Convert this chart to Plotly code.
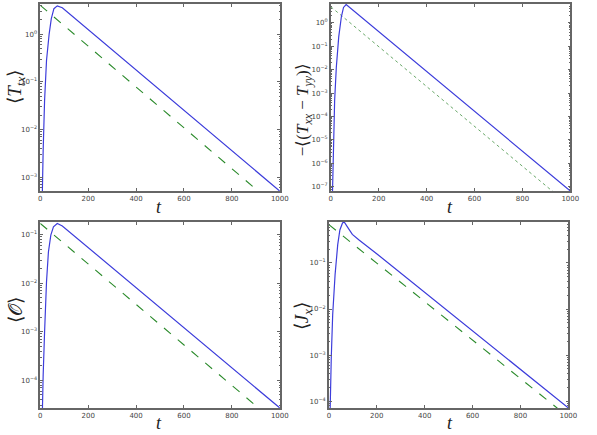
import plotly.graph_objects as go

# ---------------- data ----------------
t_blue_ttx = [6, 8, 12, 18, 26, 37, 46, 57, 71, 92, 1000]
v_blue_ttx = [1e-4, 5.0e-4, 3.6e-3, 4.1e-2, 0.28, 1.0, 2.1, 3.4, 3.9, 3.55, 5.1e-4]
t_green_ttx = [0, 1000]
v_green_ttx = [4.0, 2.1e-4]

t_blue_dt = [4, 7, 11, 16, 23, 33, 44, 53, 64, 1000]
v_blue_dt = [3e-9, 6.6e-8, 3.7e-6, 5.0e-4, 1.3e-2, 0.25, 1.8, 4.5, 6.0, 6.6e-8]
t_green_dt = [0, 1000]
v_green_dt = [4.8, 1.5e-8]

t_blue_o = [5, 8, 12, 18, 26, 34, 44, 55, 71, 92, 1000]
v_blue_o = [3.2e-6, 2.7e-5, 1.26e-4, 1.0e-3, 1.07e-2, 4.4e-2, 9.8e-2, 0.145, 0.17, 0.151, 2.7e-5]
t_green_o = [0, 1000]
v_green_o = [0.17, 1.15e-5]

t_blue_j = [2, 5, 10, 16, 26, 37, 46, 57, 64, 78, 98, 126, 205, 1000]
v_blue_j = [1e-5, 7.1e-5, 8.7e-4, 7.6e-3, 5.6e-2, 0.25, 0.52, 0.74, 0.78, 0.60, 0.417, 0.316, 0.151, 7.1e-5]
t_green_j = [0, 1000]
v_green_j = [0.68, 4.5e-5]

x_ticks = [0, 200, 400, 600, 800, 1000]
yt_ttx = [0, -1, -2, -3]
yt_dt = [0, -1, -2, -3, -4, -5, -6, -7]
yt_o = [-1, -2, -3, -4]
yt_j = [-1, -2, -3, -4]

yr_ttx = [-3.29, 0.63]
yr_dt = [-7.18, 0.80]
yr_o = [-4.57, -0.74]
yr_j = [-4.15, -0.11]

y_titles = [
    "\u27e8<i>T</i><sub><i>tx</i></sub>\u27e9",
    "\u2212\u27e8(<i>T</i><sub><i>xx</i></sub> \u2212 <i>T</i><sub><i>yy</i></sub>)\u27e9",
    "\u27e8\U0001D4AA\u27e9",
    "\u27e8<i>J</i><sub><i>x</i></sub>\u27e9",
]

# ---------------- layout geometry ----------------
W, H = 597, 435
def xd(a, b):
    return [a / W, b / W]
def yd(top, bot):
    return [1 - bot / H, 1 - top / H]

panels = [
    dict(xdom=xd(39, 283), ydom=yd(4, 191), tb=t_blue_ttx, vb=v_blue_ttx, tg=t_green_ttx, vg=v_green_ttx,
         yt=yt_ttx, yr=yr_ttx, gdash="dash", gcol="#2a8a2a", gw=1.1),
    dict(xdom=xd(335, 579), ydom=yd(4, 191), tb=t_blue_dt, vb=v_blue_dt, tg=t_green_dt, vg=v_green_dt,
         yt=yt_dt, yr=yr_dt, gdash="dot", gcol="#6aa86a", gw=1.0),
    dict(xdom=xd(39, 283), ydom=yd(222, 408), tb=t_blue_o, vb=v_blue_o, tg=t_green_o, vg=v_green_o,
         yt=yt_o, yr=yr_o, gdash="dash", gcol="#2a8a2a", gw=1.1),
    dict(xdom=xd(333, 577), ydom=yd(222, 408), tb=t_blue_j, vb=v_blue_j, tg=t_green_j, vg=v_green_j,
         yt=yt_j, yr=yr_j, gdash="dash", gcol="#2a8a2a", gw=1.1),
]

def sup(e):
    s = str(e).replace("-", "\u2212")
    return "10<sup>" + s + "</sup>"

fig = go.Figure()
tickfont = dict(family="DejaVu Sans", size=7, color="#444444")
frame = "#666666"

for i, p in enumerate(panels):
    k = "" if i == 0 else str(i + 1)
    xa, ya = "x" + k, "y" + k
    fig.add_trace(go.Scatter(x=p["tg"], y=p["vg"], mode="lines", xaxis=xa, yaxis=ya,
                             line=dict(color=p["gcol"], width=p["gw"], dash=p["gdash"]),
                             showlegend=False, hoverinfo="skip"))
    fig.add_trace(go.Scatter(x=p["tb"], y=p["vb"], mode="lines", xaxis=xa, yaxis=ya,
                             line=dict(color="#3d3ddb", width=1.2),
                             showlegend=False, hoverinfo="skip"))
    fig.layout["xaxis" + k] = dict(
        domain=p["xdom"], anchor=ya, range=[0, 1000], tickvals=x_ticks,
        ticktext=[str(v) for v in x_ticks], ticks="inside", ticklen=3, tickcolor=frame,
        showline=True, linecolor=frame, linewidth=1.5, mirror="allticks",
        showgrid=False, zeroline=False, tickfont=tickfont,
    )
    fig.layout["yaxis" + k] = dict(
        domain=p["ydom"], anchor=xa, type="log", range=p["yr"],
        tickvals=[10 ** e for e in p["yt"]], ticktext=[sup(e) for e in p["yt"]],
        ticks="inside", ticklen=3, tickcolor=frame,
        minor=dict(ticks="inside", ticklen=1.5, tickcolor=frame, dtick="D1", showgrid=False),
        showline=True, linecolor=frame, linewidth=1.5, mirror="allticks",
        showgrid=False, zeroline=False, tickfont=tickfont,
    )

title_font = dict(family="Liberation Serif", size=19, color="#222222")
title_font_small = dict(family="Liberation Serif", size=17, color="#222222")
ann = [
    dict(x=14, y=87, text=y_titles[0], f=title_font),
    dict(x=308, y=110, text=y_titles[1], f=title_font_small),
    dict(x=13, y=310, text=y_titles[2], f=title_font),
    dict(x=307, y=316, text=y_titles[3], f=title_font),
]
for a in ann:
    fig.add_annotation(x=a["x"] / W, y=1 - a["y"] / H, xref="paper", yref="paper",
                       text=a["text"], textangle=-90, showarrow=False, font=a["f"],
                       xanchor="center", yanchor="middle")
t_font = dict(family="Liberation Serif", size=18, color="#222222")
for (cx, cy) in [(160, 207), (456, 207), (160, 423), (456, 423)]:
    fig.add_annotation(x=cx / W, y=1 - cy / H, xref="paper", yref="paper",
                       text="<i>t</i>", showarrow=False, font=t_font,
                       xanchor="center", yanchor="middle")

fig.update_layout(width=W, height=H, margin=dict(l=0, r=0, t=0, b=0),
                  paper_bgcolor="white", plot_bgcolor="white", showlegend=False)

fig.write_html("out.html")
